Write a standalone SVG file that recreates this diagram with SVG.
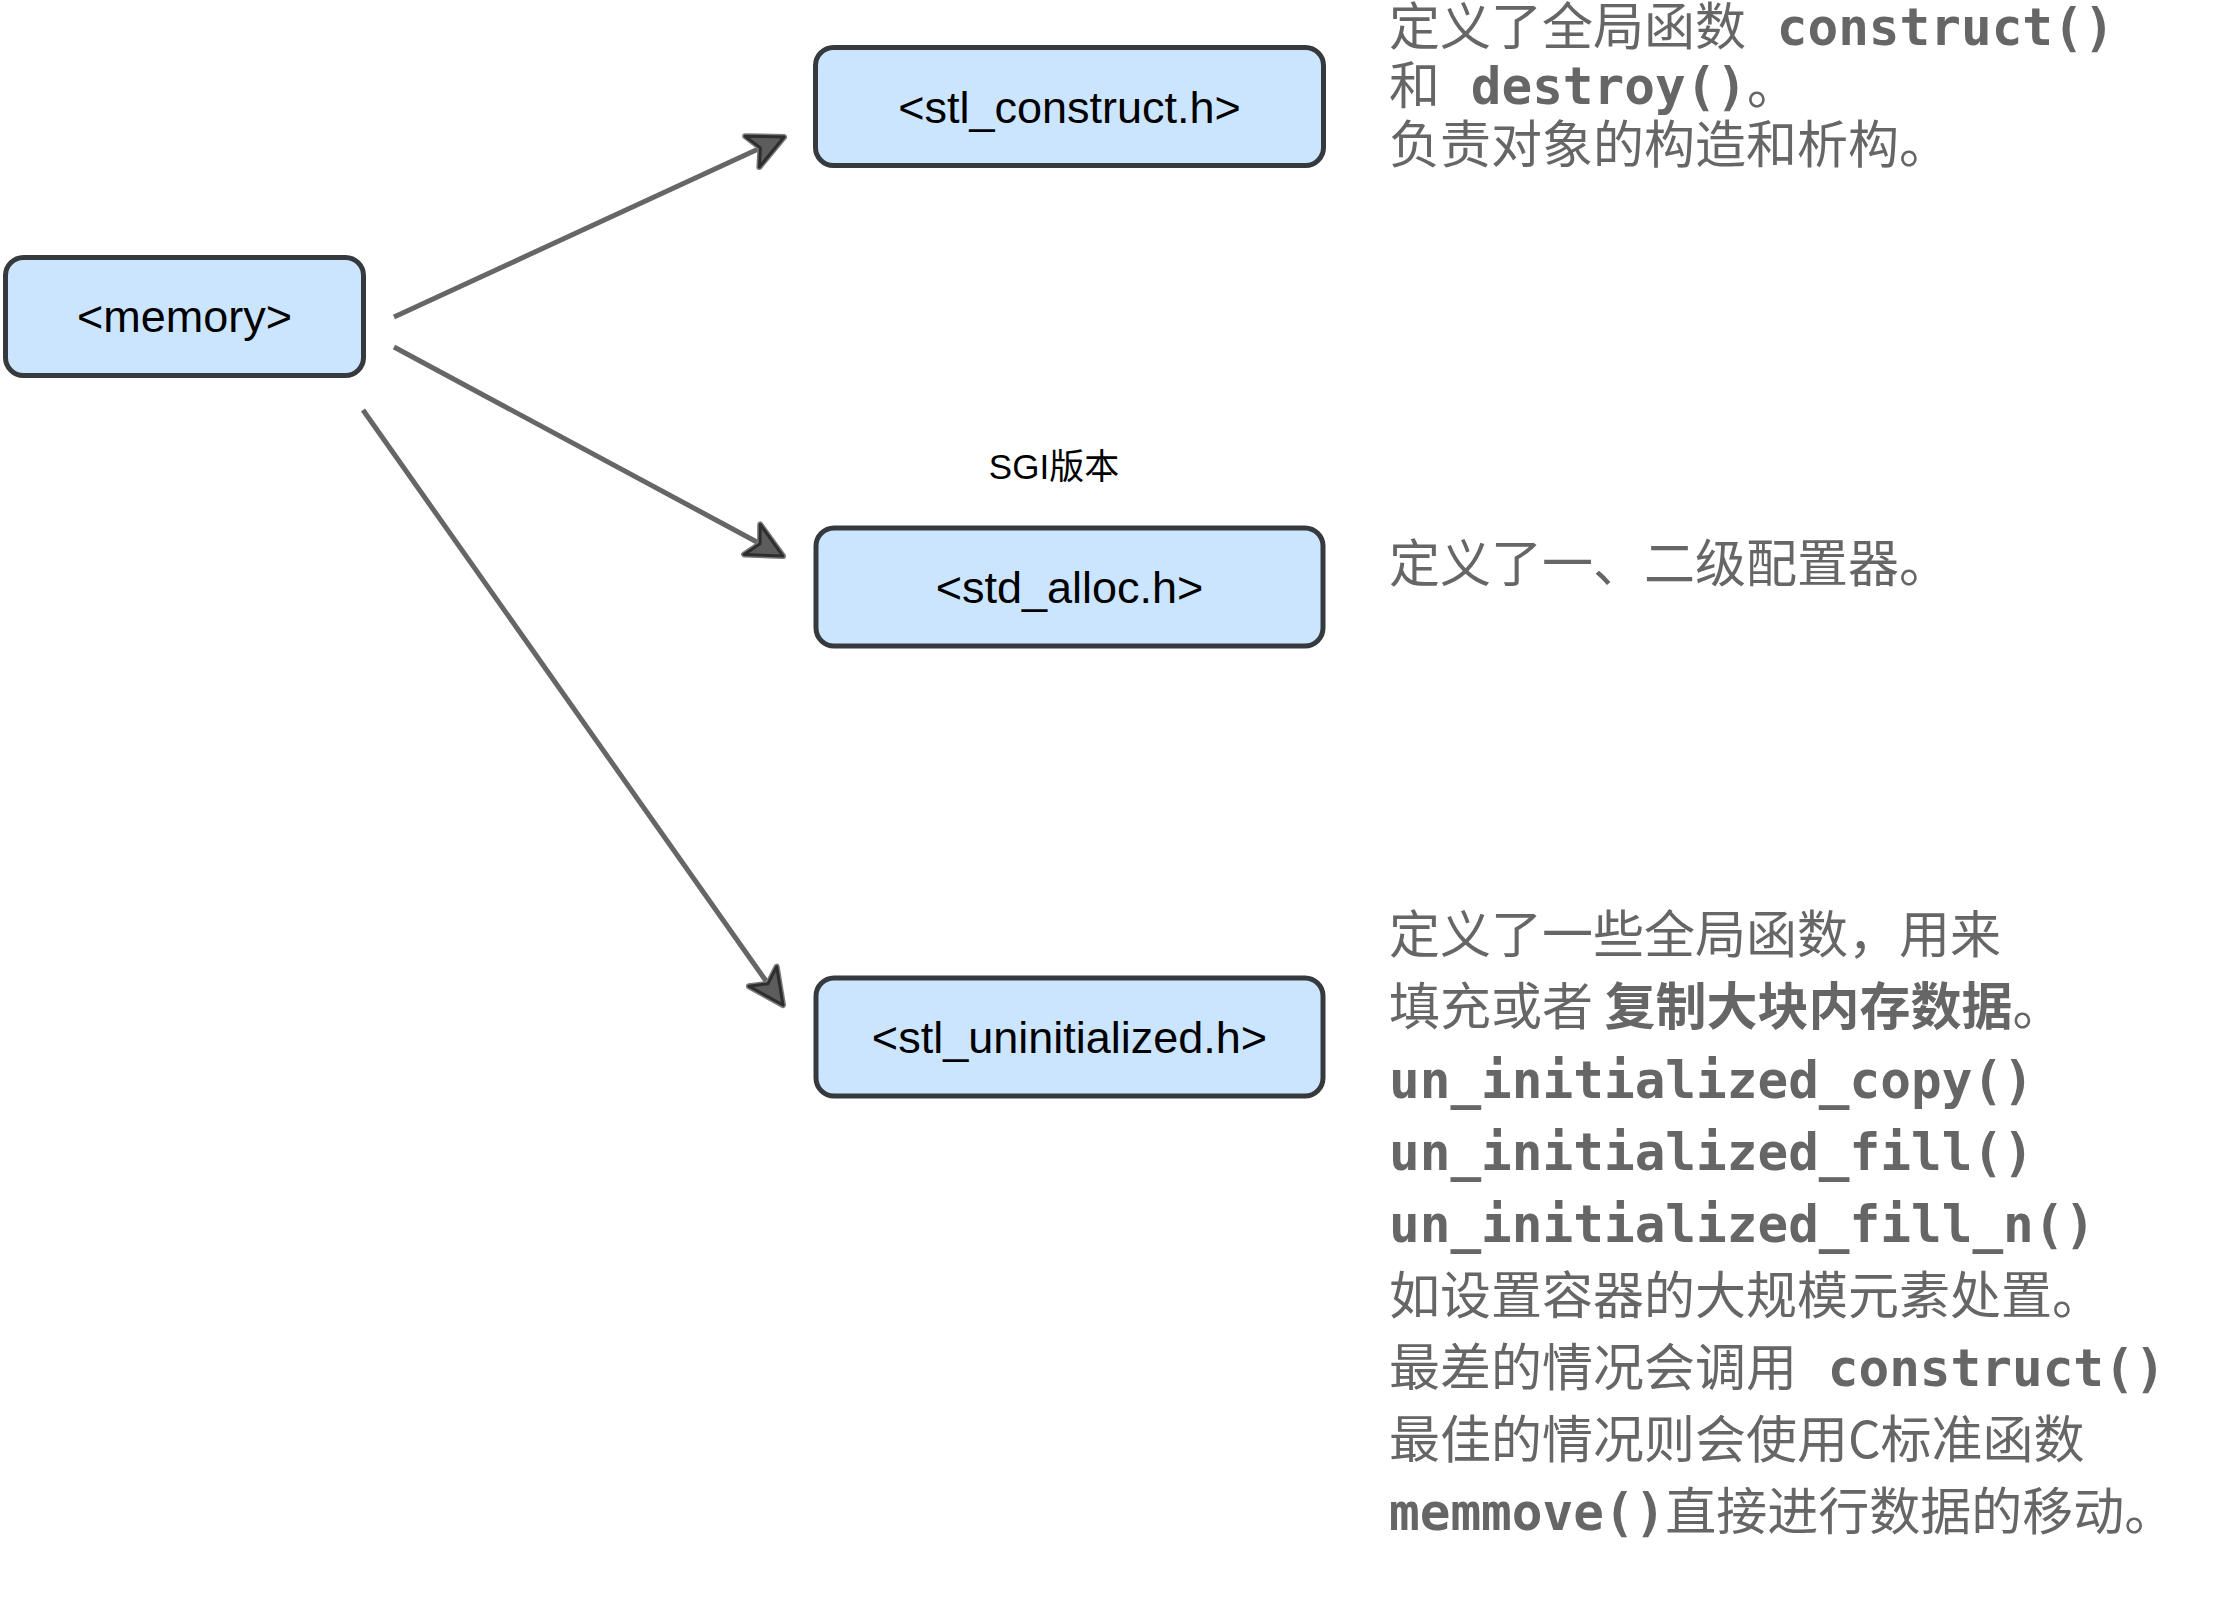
<svg xmlns="http://www.w3.org/2000/svg" width="2226" height="1608" viewBox="0 0 2226 1608">
  <style>
    .box { fill: #cce5ff; stroke: #36393d; stroke-width: 5; }
    .lbl { font-family: "Liberation Sans", Arial, sans-serif; font-size: 45px; fill: #000000; text-anchor: middle; }
    .edge { fill: none; stroke: #666666; stroke-width: 5; }
    .note { font-family: "Noto Sans CJK SC", "Liberation Sans", sans-serif; font-size: 51px; fill: #666666; }
    .code { font-family: "DejaVu Sans Mono", "Liberation Mono", monospace; font-weight: bold; }
    .strong { font-weight: bold; }
    .small { font-family: "Liberation Sans", "Noto Sans CJK SC", sans-serif; font-size: 35px; fill: #000000; text-anchor: middle; }
  </style>
  <defs>
    <marker id="arrow" viewBox="-42 -24 46 48" markerWidth="46" markerHeight="48" markerUnits="userSpaceOnUse" refX="-26" refY="0" orient="auto">
      <polygon points="0,0 -35,-17 -26,0 -35,17" fill="#7a7a7a" stroke="#7a7a7a" stroke-width="6" stroke-linejoin="round"/>
      <polygon points="0,0 -35,-17 -26,0 -35,17" fill="#5c5c5c" stroke="#2e2e2e" stroke-width="3" stroke-linejoin="round"/>
    </marker>
  </defs>

  <g id="connectors">
    <path class="edge" d="M394,317 L760.4,147.9" marker-end="url(#arrow)"/>
    <path class="edge" d="M394,347 L760.1,543.7" marker-end="url(#arrow)"/>
    <path class="edge" d="M363,410 L768,983.8" marker-end="url(#arrow)"/>
  </g>

  <g id="node-memory">
    <rect class="box" x="5.5" y="257.5" width="358" height="118" rx="18" ry="18"/>
    <text class="lbl" x="184.5" y="332">&lt;memory&gt;</text>
  </g>

  <g id="node-stl-construct">
    <rect class="box" x="815.5" y="47.5" width="508" height="118" rx="18" ry="18"/>
    <text class="lbl" x="1069.5" y="123">&lt;stl_construct.h&gt;</text>
  </g>

  <g id="node-std-alloc">
    <rect class="box" x="816" y="528" width="507" height="118" rx="18" ry="18"/>
    <text class="lbl" x="1069.5" y="603">&lt;std_alloc.h&gt;</text>
  </g>

  <g id="node-stl-uninitialized">
    <rect class="box" x="816" y="978" width="507" height="118" rx="18" ry="18"/>
    <text class="lbl" x="1069.5" y="1053">&lt;stl_uninitialized.h&gt;</text>
  </g>

  <g id="label-sgi">
    <text class="small" x="1054" y="479">SGI版本</text>
  </g>

  <g id="note-construct">
    <text class="note" x="1389" y="45">定义了全局函数<tspan class="code" xml:space="preserve"> construct()</tspan></text>
    <text class="note" x="1389" y="104">和<tspan class="code" xml:space="preserve"> destroy()</tspan>。</text>
    <text class="note" x="1389" y="163">负责对象的构造和析构。</text>
  </g>

  <g id="note-alloc">
    <text class="note" x="1389" y="582">定义了一、二级配置器。</text>
  </g>

  <g id="note-uninitialized">
    <text class="note" x="1389" y="953">定义了一些全局函数，用来</text>
    <text class="note" x="1389" y="1025" xml:space="preserve">填充或者 <tspan class="strong">复制大块内存数据</tspan>。</text>
    <text class="note code" x="1389" y="1098">un_initialized_copy()</text>
    <text class="note code" x="1389" y="1170">un_initialized_fill()</text>
    <text class="note code" x="1389" y="1242">un_initialized_fill_n()</text>
    <text class="note" x="1389" y="1314">如设置容器的大规模元素处置。</text>
    <text class="note" x="1389" y="1386">最差的情况会调用<tspan class="code" xml:space="preserve"> construct()</tspan></text>
    <text class="note" x="1389" y="1458">最佳的情况则会使用C标准函数</text>
    <text class="note" x="1389" y="1530"><tspan class="code">memmove()</tspan>直接进行数据的移动。</text>
  </g>
</svg>
